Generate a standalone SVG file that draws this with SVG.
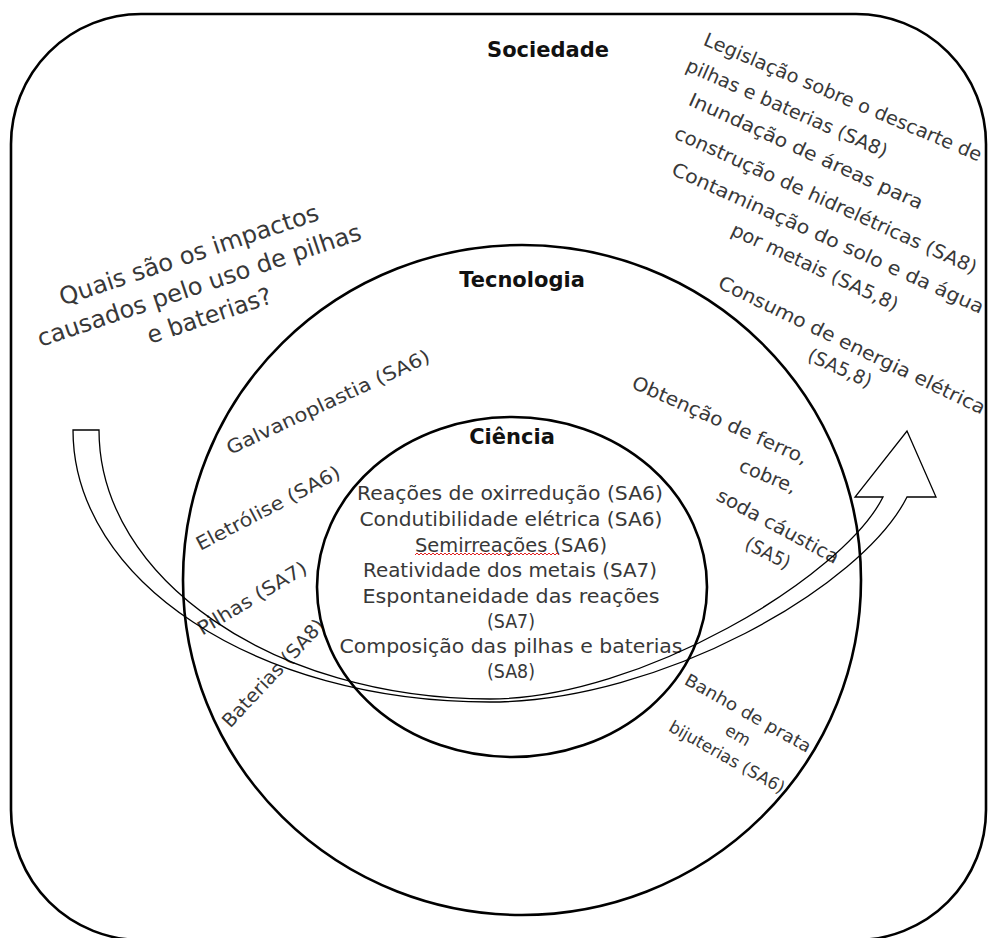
<svg xmlns="http://www.w3.org/2000/svg" width="988" height="938" viewBox="0 0 988 938">
  <style>
    .frame { fill: none; stroke: #000; stroke-width: 2.6; }
    .ring { fill: none; stroke: #000; stroke-width: 2.6; }
    .arrow { fill: none; stroke: #000; stroke-width: 1.3; stroke-linejoin: miter; }
    .title { font-family: "DejaVu Sans", "Liberation Sans", sans-serif; font-weight: bold; font-size: 21px; fill: #111; text-anchor: middle; }
    .t { font-family: "DejaVu Sans", "Liberation Sans", sans-serif; font-size: 19px; fill: #383838; text-anchor: middle; }
    .q { font-family: "DejaVu Sans", "Liberation Sans", sans-serif; font-size: 24px; fill: #383838; text-anchor: middle; }
    .s { font-family: "DejaVu Sans", "Liberation Sans", sans-serif; font-size: 17px; fill: #383838; text-anchor: middle; }
    .spell { fill: none; stroke: #e02020; stroke-width: 1; }
  </style>
  <rect width="988" height="938" fill="#fff"/>

  <!-- Sociedade: outer rounded frame -->
  <g id="sociedade">
    <rect class="frame" x="11" y="14" width="975" height="926" rx="130" ry="130"/>
    <text class="title" x="548" y="57">Sociedade</text>
    <g id="sociedade-itens">
      <text class="t" transform="translate(843,97) rotate(23)" dy="0.35em" textLength="300" lengthAdjust="spacingAndGlyphs">Legislação sobre o descarte de</text>
      <text class="t" transform="translate(787,108) rotate(23.7)" dy="0.35em" textLength="218" lengthAdjust="spacingAndGlyphs">pilhas e baterias (SA8)</text>
      <text class="t" transform="translate(806,151) rotate(24.4)" dy="0.35em" textLength="255" lengthAdjust="spacingAndGlyphs">Inundação de áreas para</text>
      <text class="t" transform="translate(826,200) rotate(24.5)" dy="0.35em" textLength="330" lengthAdjust="spacingAndGlyphs">construção de hidrelétricas (SA8)</text>
      <text class="t" transform="translate(828,238) rotate(24.3)" dy="0.35em" textLength="340" lengthAdjust="spacingAndGlyphs">Contaminação do solo e da água</text>
      <text class="t" transform="translate(815,267) rotate(25)" dy="0.35em" textLength="182" lengthAdjust="spacingAndGlyphs">por metais (SA5,8)</text>
      <text class="t" transform="translate(852,345) rotate(25.7)" dy="0.35em" textLength="294" lengthAdjust="spacingAndGlyphs">Consumo de energia elétrica</text>
      <text class="t" transform="translate(840,368) rotate(24.4)" dy="0.35em" textLength="68" lengthAdjust="spacingAndGlyphs">(SA5,8)</text>
    </g>
    <g id="pergunta" transform="translate(199,285) rotate(-18.5)">
      <text class="q" y="-32" dy="0.35em" textLength="272" lengthAdjust="spacingAndGlyphs">Quais são os impactos</text>
      <text class="q" y="0" dy="0.35em" textLength="340" lengthAdjust="spacingAndGlyphs">causados pelo uso de pilhas</text>
      <text class="q" y="32" dy="0.35em" textLength="130" lengthAdjust="spacingAndGlyphs">e baterias?</text>
    </g>
  </g>

  <!-- Tecnologia: middle ring -->
  <g id="tecnologia">
    <ellipse class="ring" cx="522" cy="580" rx="339" ry="335"/>
    <text class="title" x="522" y="287">Tecnologia</text>
    <text class="t" transform="translate(328,402) rotate(-25)" dy="0.35em" textLength="222" lengthAdjust="spacingAndGlyphs">Galvanoplastia (SA6)</text>
    <text class="t" transform="translate(268,508) rotate(-27.6)" dy="0.35em" textLength="160" lengthAdjust="spacingAndGlyphs">Eletrólise (SA6)</text>
    <text class="t" transform="translate(252,598) rotate(-31)" dy="0.35em" textLength="124" lengthAdjust="spacingAndGlyphs">Pilhas (SA7)</text>
    <text class="t" transform="translate(273,673) rotate(-47)" dy="0.35em" textLength="140" lengthAdjust="spacingAndGlyphs">Baterias (SA8)</text>
    <text class="t" transform="translate(720,420) rotate(24)" dy="0.35em" textLength="190" lengthAdjust="spacingAndGlyphs">Obtenção de ferro,</text>
    <text class="t" transform="translate(768,476) rotate(22.6)" dy="0.35em" textLength="60" lengthAdjust="spacingAndGlyphs">cobre,</text>
    <text class="t" transform="translate(778,526) rotate(28.5)" dy="0.35em" textLength="136" lengthAdjust="spacingAndGlyphs">soda cáustica</text>
    <text class="t" transform="translate(768,553) rotate(27)" dy="0.35em" textLength="48" lengthAdjust="spacingAndGlyphs">(SA5)</text>
    <text class="s" transform="translate(748,713) rotate(29.3)" dy="0.35em" textLength="142" lengthAdjust="spacingAndGlyphs">Banho de prata</text>
    <text class="s" transform="translate(738,735) rotate(31)" dy="0.35em" textLength="26" lengthAdjust="spacingAndGlyphs">em</text>
    <text class="s" transform="translate(727,757) rotate(29.4)" dy="0.35em" textLength="130" lengthAdjust="spacingAndGlyphs">bijuterias (SA6)</text>
  </g>

  <!-- Ciência: inner ring -->
  <g id="ciencia">
    <ellipse class="ring" cx="512" cy="587" rx="195" ry="170"/>
    <text class="title" x="512" y="444">Ciência</text>
    <text class="t" x="510" y="500" textLength="306" lengthAdjust="spacingAndGlyphs">Reações de oxirredução (SA6)</text>
    <text class="t" x="511" y="526" textLength="303" lengthAdjust="spacingAndGlyphs">Condutibilidade elétrica (SA6)</text>
    <text class="t" x="511" y="552" textLength="192" lengthAdjust="spacingAndGlyphs">Semirreações (SA6)</text>
    <text class="t" x="510" y="577" textLength="294" lengthAdjust="spacingAndGlyphs">Reatividade dos metais (SA7)</text>
    <text class="t" x="511" y="603" textLength="297" lengthAdjust="spacingAndGlyphs">Espontaneidade das reações</text>
    <text class="t" x="511" y="628" textLength="48" lengthAdjust="spacingAndGlyphs">(SA7)</text>
    <text class="t" x="511" y="653" textLength="343" lengthAdjust="spacingAndGlyphs">Composição das pilhas e baterias</text>
    <text class="t" x="511" y="678" textLength="48" lengthAdjust="spacingAndGlyphs">(SA8)</text>
    <path class="spell" d="M415,555 l2,-2 l2,2 l2,-2 l2,2 l2,-2 l2,2 l2,-2 l2,2 l2,-2 l2,2 l2,-2 l2,2 l2,-2 l2,2 l2,-2 l2,2 l2,-2 l2,2 l2,-2 l2,2 l2,-2 l2,2 l2,-2 l2,2 l2,-2 l2,2 l2,-2 l2,2 l2,-2 l2,2 l2,-2 l2,2 l2,-2 l2,2 l2,-2 l2,2 l2,-2 l2,2 l2,-2 l2,2 l2,-2 l2,2 l2,-2 l2,2 l2,-2 l2,2 l2,-2 l2,2 l2,-2 l2,2 l2,-2 l2,2 l2,-2 l2,2 l2,-2 l2,2 l2,-2 l2,2 l2,-2 l2,2 l2,-2 l2,2 l2,-2 l2,2 l2,-2 l2,2 l2,-2 l2,2 l2,-2 l2,2 l2,-2 l2,2"/>
  </g>

  <!-- curved arrow sweeping from the question through the rings -->
  <g id="connectors">
    <path class="arrow" d="M73,430 L99,430 C99,579 274,699 490,699 C640,699 843,577 883,497 L855,497 L907,431 L936,497 L907,497 C862,587 660,702 490,702 C255,702 73,580 73,430 Z"/>
  </g>
</svg>
